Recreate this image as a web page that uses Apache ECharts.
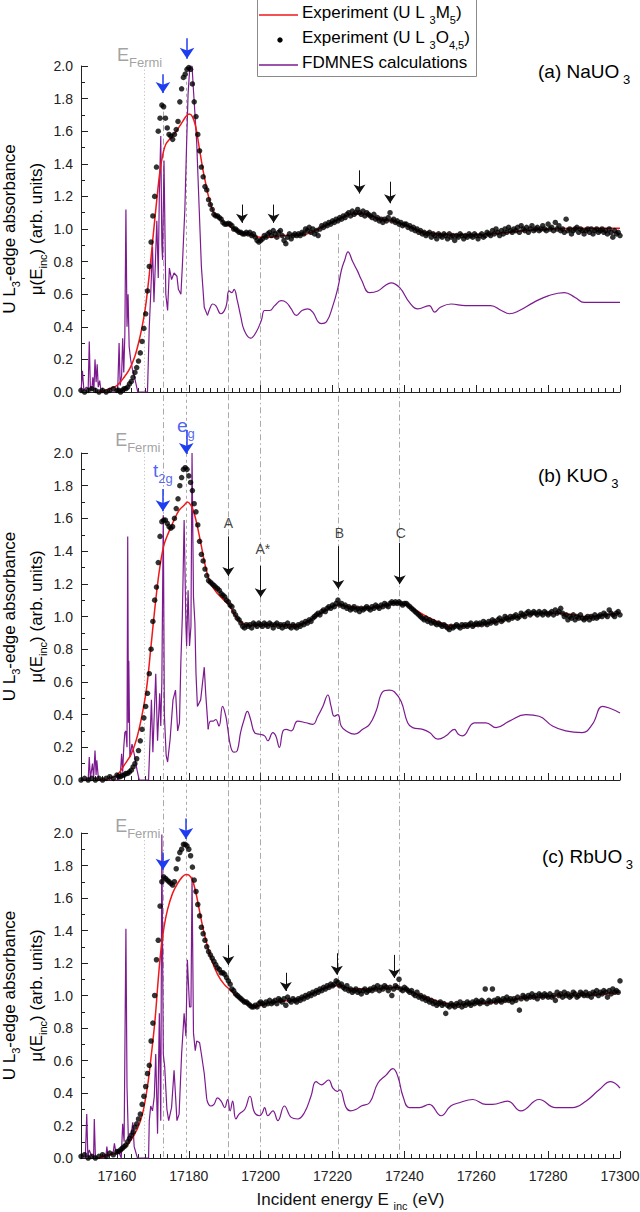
<!DOCTYPE html>
<html>
<head>
<meta charset="utf-8">
<title>U L3-edge absorbance</title>
<script src="https://cdn.jsdelivr.net/npm/echarts@6/dist/echarts.min.js"></script>
<style>
  html, body { margin: 0; padding: 0; background: #fff; }
  #main { width: 640px; height: 1212px; }
</style>
</head>
<body>
<div id="main"></div>
<script>
// energy grid of the HERFD scans: 1 eV steps below 17160, 0.5 eV above
const scanE = []
for (let e = 17150; e <= 17160; e += 1) scanE.push(e)
for (let i = 1; i <= 280; i++) scanE.push(17160 + i * 0.5)

// black dots, U L3O4,5 (one value per scanE point)
const dotsNa = [
  0.01, 0.0, 0.01, 0.02, 0.01, 0.0, 0.01, 0.0, 0.01, 0.02, 0.01,
  0.01, 0.0, 0.01, 0.02, 0.02, 0.03, 0.05, 0.065, 0.09, 0.12, 0.15, 0.19, 0.24, 0.31, 0.39, 0.48, 0.62, 0.77, 0.92, 1.08,
  1.2, 1.38, 1.6, 1.68, 1.76, 1.75, 1.68, 1.62, 1.58, 1.57, 1.55, 1.58, 1.61, 1.66, 1.78, 1.86, 1.93, 1.95, 1.98, 1.99,
  1.98, 1.89, 1.78, 1.69, 1.58, 1.48, 1.38, 1.32, 1.26, 1.24, 1.18, 1.15, 1.12, 1.09, 1.08, 1.08, 1.07, 1.06, 1.04, 1.03,
  1.03, 1.035, 1.03, 1.02, 1.0, 1.0, 0.99, 0.98, 0.98, 0.97, 0.97, 0.98, 0.97, 0.98, 0.96, 0.97, 0.95, 0.93, 0.92, 0.93,
  0.94, 0.96, 0.95, 0.97, 0.98, 0.96, 0.99, 0.97, 0.95, 0.98, 0.99, 0.96, 0.93, 0.91, 0.95, 0.97, 0.94, 0.96, 0.97, 0.96,
  0.97, 0.96, 0.98, 0.97, 1.0, 0.99, 1.01, 0.98, 1.0, 0.97, 0.99, 0.96, 1.0, 1.02, 1.01, 1.03, 1.02, 1.04, 1.03, 1.05,
  1.04, 1.06, 1.05, 1.07, 1.06, 1.08, 1.07, 1.09, 1.1, 1.08, 1.11, 1.09, 1.1, 1.12, 1.1, 1.09, 1.11, 1.08, 1.1, 1.09,
  1.08, 1.07, 1.09, 1.06, 1.07, 1.05, 1.06, 1.04, 1.06, 1.05, 1.07, 1.1, 1.05, 1.06, 1.04, 1.05, 1.03, 1.04, 1.02, 1.03,
  1.03, 1.01, 1.02, 1.0, 1.01, 0.99, 1.0, 0.98, 0.99, 0.97, 0.98, 0.96, 0.97, 0.98, 0.95, 0.97, 0.96, 0.94, 0.97, 0.96,
  0.95, 0.97, 0.96, 0.94, 0.97, 0.95, 0.96, 0.93, 0.96, 0.95, 0.97, 0.96, 0.94, 0.96, 0.95, 0.97, 0.96, 0.95, 0.97, 0.96,
  0.94, 0.96, 0.97, 0.95, 0.96, 0.98, 0.97, 0.96, 0.99, 0.97, 1.0, 0.98, 0.96, 0.99, 0.97, 1.0, 0.98, 1.01, 0.99, 0.98,
  1.0, 0.99, 1.01, 0.98, 1.02, 1.0, 0.99, 1.01, 0.98, 1.0, 1.02, 0.99, 1.0, 1.01, 0.99, 1.0, 1.02, 1.0, 0.99, 1.03,
  1.0, 1.01, 0.99, 1.04, 1.0, 1.02, 0.99, 1.0, 0.98, 1.06, 0.99, 1.0, 0.97, 0.99, 1.0, 1.01, 0.98, 1.0, 0.99, 0.97,
  0.99, 1.0, 0.98, 1.0, 0.97, 0.99, 1.0, 0.98, 0.99, 1.0, 0.98, 0.99, 0.97, 1.0, 0.98, 0.95, 0.99, 0.97, 0.98, 0.96
]
const dotsK = [
  0.0, 0.01, 0.0, 0.01, 0.0, 0.01, 0.0, 0.01, 0.02, 0.01, 0.03,
  0.02, 0.02, 0.03, 0.03, 0.04, 0.04, 0.05, 0.06, 0.08, 0.1, 0.13, 0.18, 0.24, 0.31, 0.38, 0.45, 0.53, 0.65, 0.8, 0.97,
  1.1, 1.18, 1.33, 1.49, 1.58, 1.59, 1.59, 1.57, 1.55, 1.54, 1.55, 1.6, 1.66, 1.72, 1.8, 1.85, 1.9, 1.91, 1.9, 1.86,
  1.82, 1.77, 1.69, 1.64, 1.56, 1.46, 1.38, 1.34, 1.29, 1.25, 1.22, 1.21, 1.2, 1.19, 1.18, 1.17, 1.16, 1.14, 1.13, 1.12,
  1.1, 1.09, 1.07, 1.06, 1.03, 1.01, 0.99, 0.98, 0.96, 0.94, 0.93, 0.95, 0.94, 0.95, 0.93, 0.96, 0.95, 0.94, 0.96, 0.95,
  0.94, 0.96, 0.95, 0.94, 0.96, 0.95, 0.93, 0.95, 0.96, 0.94, 0.95, 0.93, 0.95, 0.94, 0.96, 0.94, 0.93, 0.95, 0.94, 0.93,
  0.95, 0.94, 0.96, 0.95, 0.97, 0.96, 0.98, 0.97, 0.99, 1.0, 1.01, 1.02, 1.01, 1.03, 1.04, 1.03, 1.05, 1.06, 1.05, 1.07,
  1.06, 1.08, 1.1, 1.07, 1.08, 1.06, 1.07, 1.05, 1.06, 1.04, 1.05, 1.06, 1.04, 1.05, 1.03, 1.05, 1.04, 1.05, 1.06, 1.05,
  1.04, 1.06, 1.05, 1.07, 1.06, 1.05, 1.07, 1.06, 1.08, 1.07, 1.06, 1.08, 1.09, 1.08, 1.09, 1.08, 1.09, 1.08, 1.07, 1.08,
  1.08, 1.07, 1.06, 1.05, 1.04, 1.03, 1.02, 1.01, 1.0, 0.99, 0.98, 0.99, 0.97, 0.98, 0.96, 0.97, 0.96, 0.95, 0.96, 0.95,
  0.94, 0.95, 0.94, 0.93, 0.92, 0.94, 0.93, 0.94, 0.95, 0.94, 0.93, 0.95, 0.94, 0.95, 0.94, 0.95, 0.96, 0.94, 0.95, 0.96,
  0.95, 0.96, 0.95, 0.97, 0.96, 0.95, 0.97, 0.96, 0.98, 0.97, 0.96, 0.98, 0.99, 0.97, 0.98, 1.0, 0.99, 0.98, 1.0, 0.99,
  1.0, 1.01, 0.99, 1.0, 1.02, 1.01, 1.0, 1.02, 1.03, 1.01, 1.02, 1.03, 1.02, 1.01, 1.03, 1.02, 1.01, 1.03, 1.02, 1.01,
  1.02, 1.03, 1.01, 1.04, 1.02, 1.03, 1.05, 1.02, 1.0, 1.01, 0.98, 1.0, 0.99, 1.01, 0.98, 1.0, 0.99, 1.01, 0.99, 0.98,
  0.99, 1.0, 0.98, 1.0, 0.99, 1.01, 0.99, 1.0, 1.01, 1.0, 1.02, 1.01, 1.0, 1.04, 1.02, 1.01, 1.0, 1.02, 1.03, 1.01
]
const dotsRb = [
  0.01, 0.02, 0.0, 0.01, 0.0, 0.01, 0.02, 0.01, 0.03, 0.02, 0.04,
  0.04, 0.05, 0.06, 0.07, 0.08, 0.1, 0.12, 0.14, 0.16, 0.19, 0.21, 0.24, 0.27, 0.33, 0.38, 0.44, 0.52, 0.57, 0.72, 0.83,
  1.0, 1.22, 1.34, 1.55, 1.7, 1.73, 1.72, 1.71, 1.7, 1.69, 1.68, 1.7, 1.78, 1.84, 1.88, 1.9, 1.93, 1.93, 1.92, 1.9,
  1.86, 1.79, 1.71, 1.64, 1.56, 1.49, 1.42, 1.38, 1.34, 1.3, 1.27, 1.25, 1.23, 1.21, 1.19, 1.17, 1.16, 1.14, 1.14, 1.13,
  1.11, 1.09, 1.07, 1.04, 1.03, 1.01, 1.0, 0.99, 0.98, 0.97, 0.96, 0.96, 0.95, 0.94, 0.93, 0.93, 0.94, 0.93, 0.95, 0.96,
  0.95, 0.94, 0.96, 0.95, 0.97, 0.95, 0.96, 0.97, 0.95, 0.98, 0.97, 0.96, 0.98, 0.94, 0.99, 0.97, 0.96, 0.98, 0.97, 0.96,
  0.98, 0.97, 0.99, 0.98, 1.0, 0.99, 1.01, 1.0, 1.02, 1.01, 1.03, 1.02, 1.04, 1.03, 1.05, 1.04, 1.06, 1.05, 1.07, 1.06,
  1.07, 1.09, 1.08, 1.06, 1.07, 1.05, 1.04, 1.06, 1.03, 1.04, 1.02, 1.03, 1.04, 1.02, 1.03, 1.01, 1.03, 1.04, 1.02, 1.03,
  1.04, 1.03, 1.05, 1.04, 1.06, 1.03, 1.05, 1.04, 1.06, 1.05, 1.03, 1.05, 1.0, 1.04, 1.06, 1.05, 1.1, 1.04, 1.03, 1.05,
  1.04, 1.03, 1.02, 1.03, 1.01, 1.0, 1.02, 0.99, 1.0, 0.98, 0.99, 0.97, 0.98, 0.96, 0.97, 0.95, 0.96, 0.94, 0.95, 0.96,
  0.94, 0.95, 0.89, 0.94, 0.93, 0.95, 0.94, 0.93, 0.95, 0.94, 0.96, 0.93, 0.95, 0.94, 0.96, 0.95, 0.94, 0.96, 0.95, 0.97,
  0.96, 0.95, 0.97, 0.96, 1.04, 0.95, 0.97, 0.96, 1.04, 0.97, 0.96, 0.98, 0.97, 0.96, 0.98, 0.97, 0.99, 0.97, 0.98, 0.96,
  0.98, 0.97, 0.99, 0.91, 0.98, 1.0, 0.99, 0.98, 1.0, 0.99, 1.01, 0.99, 1.0, 0.98, 1.01, 1.0, 0.99, 1.01, 1.0, 0.99,
  1.01, 0.99, 1.0, 0.97, 1.02, 1.0, 1.01, 0.99, 1.02, 1.0, 1.01, 0.99, 1.0, 1.02, 1.01, 0.99, 1.0, 1.02, 1.01, 1.0,
  1.02, 1.0, 1.01, 0.99, 1.02, 1.01, 1.03, 1.0, 1.02, 1.01, 1.03, 1.02, 0.99, 1.03, 1.01, 1.04, 1.02, 1.03, 1.02, 1.09
]

// red curves, U L3M5 [energy, value]
const fitNa = [
  [17155, 0], [17158, 0.02], [17160, 0.04], [17162, 0.09], [17163.5, 0.14], [17165, 0.22], [17166, 0.3],
  [17167, 0.4], [17168, 0.53], [17169, 0.72], [17170, 0.94], [17171, 1.16], [17172, 1.36], [17172.8, 1.46],
  [17173.6, 1.52], [17175, 1.56], [17176.5, 1.6], [17178, 1.65], [17179.2, 1.69], [17180.1, 1.705], [17181, 1.69],
  [17181.9, 1.63], [17182.9, 1.5], [17183.8, 1.38], [17184.7, 1.28], [17185.6, 1.19], [17187, 1.1], [17189, 1.055],
  [17191.7, 1.01], [17194.4, 0.98], [17197.2, 0.96], [17200, 0.95], [17203, 0.95], [17206, 0.96], [17210, 0.96],
  [17213, 0.97], [17216, 1.0], [17219, 1.03], [17222, 1.065], [17225, 1.09], [17227.5, 1.095], [17230, 1.085],
  [17233, 1.065], [17236, 1.05], [17239, 1.035], [17242, 1.01], [17245, 0.985], [17250, 0.97], [17258, 0.965],
  [17267, 0.975], [17276, 0.995], [17286, 1.005], [17300, 1.005]
]
const fitK = [
  [17155, 0], [17158, 0.01], [17160, 0.03], [17162, 0.09], [17164, 0.16], [17165.7, 0.27], [17167.1, 0.41],
  [17168.3, 0.57], [17169.4, 0.8], [17170.6, 1.06], [17171.8, 1.28], [17173, 1.43], [17174.3, 1.51], [17175.9, 1.59],
  [17177.3, 1.65], [17178.7, 1.68], [17179.6, 1.7], [17180.6, 1.68], [17181.5, 1.63], [17182.4, 1.55], [17183.5, 1.43],
  [17184.7, 1.3], [17186.1, 1.2], [17188, 1.14], [17189.8, 1.1], [17191.2, 1.07], [17193.1, 1.0], [17194.9, 0.96],
  [17197.2, 0.945], [17200, 0.95], [17205, 0.95], [17210, 0.95], [17213, 0.97], [17216, 1.01], [17219, 1.05],
  [17221.5, 1.07], [17225, 1.06], [17229, 1.05], [17233, 1.06], [17237, 1.08], [17240, 1.075], [17243, 1.04],
  [17247, 0.99], [17251, 0.955], [17255, 0.94], [17260, 0.945], [17266, 0.97], [17272, 1.0], [17278, 1.02],
  [17284, 1.02], [17290, 1.0], [17296, 1.01], [17300, 1.02]
]
const fitRb = [
  [17155, 0], [17158, 0.02], [17160, 0.03], [17162, 0.06], [17163.9, 0.11], [17165.7, 0.18], [17167.1, 0.27],
  [17168.5, 0.44], [17169.6, 0.64], [17170.6, 0.85], [17171.5, 1.1], [17172.2, 1.27], [17173.1, 1.42], [17174.1, 1.53],
  [17175.5, 1.63], [17176.9, 1.69], [17178.2, 1.73], [17179.2, 1.745], [17180.1, 1.74], [17181, 1.71], [17181.9, 1.64],
  [17182.9, 1.53], [17183.8, 1.43], [17185, 1.32], [17186.3, 1.22], [17188, 1.13], [17189.8, 1.07], [17191.7, 1.03],
  [17193.5, 0.99], [17195.4, 0.96], [17197.2, 0.94], [17198.6, 0.93], [17200, 0.94], [17204, 0.96], [17208, 0.97],
  [17212, 0.99], [17216, 1.03], [17221, 1.06], [17226, 1.04], [17232, 1.04], [17238, 1.05], [17242, 1.02],
  [17246, 0.99], [17250, 0.96], [17254, 0.945], [17260, 0.95], [17266, 0.96], [17272, 0.98], [17278, 0.99],
  [17284, 1.0], [17290, 1.0], [17296, 1.01], [17300, 1.02]
]

// purple FDMNES curves [energy, value]
const fdNa = [
  [17150, 0], [17150.4, 0.13], [17150.8, 0.01], [17151.5, 0.03], [17152, 0.02], [17152.3, 0.31], [17152.6, 0.03],
  [17153, 0.01], [17153.3, 0.09], [17153.6, 0.02], [17153.9, 0.2], [17154.2, 0.06], [17154.5, 0.17], [17154.8, 0.03],
  [17155.2, 0.07], [17155.6, 0], [17160.2, 0], [17160.6, 0.3], [17160.9, 0.04], [17161.3, 0.1], [17161.6, 0.33],
  [17161.9, 0.12], [17162.2, 0.35], [17162.5, 1.12], [17162.8, 0.4], [17163.1, 0.6], [17163.4, 0.28], [17163.8, 0.2],
  [17164.3, 0.14], [17164.8, 0.1], [17165.3, 0.05], [17165.8, 0], [17168.5, 0], [17169, 0.4], [17169.4, 0.6],
  [17169.9, 0.89], [17170.3, 0.55], [17170.6, 0.73], [17171.1, 1.05], [17171.5, 0.7], [17171.8, 1.22], [17172.2, 1.57],
  [17172.5, 0.9], [17172.7, 0.81], [17173.1, 1.42], [17173.6, 0.6], [17174.1, 0.5], [17174.6, 0.76], [17175.2, 0.69],
  [17175.9, 0.73], [17176.7, 0.71], [17177.1, 0.63], [17177.8, 0.6], [17178.2, 0.77], [17178.9, 1.12], [17179.4, 1.53],
  [17179.8, 1.83], [17180.3, 2.0], [17180.9, 2.0], [17181.3, 1.85], [17181.7, 1.71], [17182.2, 1.53], [17182.9, 1.12],
  [17183.5, 0.77], [17184.3, 0.52], [17185.2, 0.47], [17186, 0.52], [17186.6, 0.54], [17187.5, 0.53], [17188.9, 0.48],
  [17190.3, 0.52], [17191.2, 0.62], [17192, 0.61], [17192.6, 0.63], [17193.5, 0.56], [17194.5, 0.46], [17195.4, 0.38],
  [17197.2, 0.33], [17198.8, 0.37], [17200.2, 0.44], [17201.1, 0.5], [17202.5, 0.5], [17203.9, 0.53], [17205.7, 0.56],
  [17207.1, 0.55], [17208.5, 0.51], [17209.9, 0.47], [17211.5, 0.5], [17213.1, 0.51], [17214.5, 0.49], [17216, 0.43],
  [17216.9, 0.42], [17218.3, 0.43], [17220.1, 0.53], [17221.5, 0.64], [17222.5, 0.75], [17223.4, 0.81], [17224.3, 0.86],
  [17225.6, 0.8], [17227, 0.74], [17228, 0.69], [17230.3, 0.61], [17232.6, 0.62], [17234.5, 0.65], [17236.3, 0.67],
  [17238.7, 0.64], [17241.4, 0.55], [17243.7, 0.51], [17246.9, 0.53], [17248.4, 0.49], [17250, 0.52], [17253, 0.54],
  [17257, 0.53], [17261, 0.53], [17264, 0.53], [17267, 0.5], [17269.2, 0.48], [17272, 0.5], [17276, 0.55],
  [17280, 0.59], [17284.5, 0.61], [17287.5, 0.58], [17290, 0.55], [17294, 0.55], [17300, 0.55]
]
const fdK = [
  [17150, 0], [17152, 0], [17152.3, 0.14], [17152.6, 0.01], [17152.8, 0.04], [17153.2, 0.1], [17153.5, 0.01],
  [17153.9, 0.18], [17154.2, 0.03], [17154.4, 0.12], [17154.8, 0.02], [17155.1, 0], [17160.5, 0], [17161, 0.05],
  [17161.3, 0.16], [17161.6, 0.05], [17161.9, 0.2], [17162.2, 0.29], [17162.5, 0.3], [17162.8, 0.2], [17163, 1.49],
  [17163.2, 0.35], [17163.3, 0.73], [17163.6, 0.14], [17164.2, 0.22], [17164.8, 0.16], [17165.6, 0.06], [17166.2, 0],
  [17168.8, 0], [17169.2, 0.24], [17169.6, 0.49], [17170, 0.17], [17170.4, 0.41], [17170.8, 0.65], [17171.3, 0.24],
  [17171.9, 0.53], [17172.2, 0.33], [17172.5, 0.6], [17172.9, 1.62], [17173.2, 0.4], [17173.7, 0.15], [17174.1, 0.11],
  [17174.8, 0.25], [17175.6, 0.49], [17176.3, 0.55], [17176.9, 0.3], [17177.4, 0.35], [17177.8, 0.73], [17178.2, 1.0],
  [17178.7, 1.59], [17179.2, 0.94], [17179.4, 0.82], [17179.8, 1.16], [17180.2, 0.82], [17180.6, 0.94], [17180.9, 2.0],
  [17181.3, 1.12], [17181.7, 0.96], [17182, 0.65], [17182.4, 0.45], [17183.3, 0.49], [17184.3, 0.69], [17184.7, 0.53],
  [17185.4, 0.31], [17186.1, 0.36], [17186.8, 0.36], [17187.5, 0.37], [17188.4, 0.33], [17189.4, 0.45], [17190.3, 0.39],
  [17190.8, 0.32], [17191.7, 0.2], [17192.6, 0.17], [17193.5, 0.18], [17194.4, 0.29], [17195.4, 0.37], [17196.3, 0.42],
  [17197.2, 0.37], [17198.3, 0.29], [17199.7, 0.28], [17201.1, 0.27], [17202, 0.24], [17203.4, 0.29], [17204.2, 0.27],
  [17205.2, 0.2], [17206.2, 0.3], [17207.1, 0.31], [17208.5, 0.3], [17210.3, 0.36], [17212.6, 0.35], [17214.5, 0.34],
  [17215.9, 0.39], [17217.3, 0.45], [17218.7, 0.52], [17219.6, 0.45], [17220.5, 0.39], [17221.5, 0.4], [17222.4, 0.33],
  [17223.8, 0.3], [17226.1, 0.28], [17228.4, 0.31], [17230.3, 0.34], [17232.1, 0.42], [17234, 0.54], [17235.8, 0.55],
  [17237.2, 0.54], [17239.1, 0.48], [17240.9, 0.35], [17242.3, 0.32], [17245.1, 0.31], [17247, 0.29], [17249.3, 0.25],
  [17251.6, 0.27], [17253.9, 0.31], [17255, 0.28], [17256.2, 0.27], [17259.5, 0.35], [17262.7, 0.35], [17265.5, 0.32],
  [17269.2, 0.36], [17273.8, 0.4], [17277.5, 0.39], [17281.2, 0.33], [17284.9, 0.3], [17289.5, 0.29], [17292.3, 0.34],
  [17295.1, 0.45], [17297, 0.44], [17300, 0.41]
]
const fdRb = [
  [17150, 0], [17151.2, 0], [17151.6, 0.27], [17151.9, 0.01], [17152.3, 0.05], [17152.8, 0.02], [17153.5, 0],
  [17153.7, 0.24], [17154, 0.01], [17154.5, 0], [17156.9, 0], [17157.2, 0.07], [17157.5, 0.01], [17159, 0.04],
  [17159.3, 0.09], [17159.8, 0.02], [17160.5, 0.04], [17161.2, 0], [17161.6, 0.21], [17162, 0.1], [17162.5, 1.41],
  [17162.8, 0.44], [17163.2, 0.1], [17163.9, 0.13], [17164.4, 0.22], [17164.8, 0.07], [17165.7, 0], [17168.8, 0],
  [17169, 0.23], [17169.4, 0.32], [17169.9, 0.29], [17170.4, 0.38], [17170.8, 0.64], [17171.3, 0.15], [17171.8, 0.89],
  [17172.2, 0.23], [17172.5, 1.99], [17172.9, 0.64], [17173.3, 0.56], [17173.9, 0.3], [17174.4, 0.23], [17175.2, 0.31],
  [17175.9, 0.54], [17176.7, 0.23], [17177.3, 0.27], [17178, 0.64], [17178.7, 0.89], [17179.2, 0.75], [17179.6, 1.22],
  [17180.2, 0.93], [17180.6, 0.93], [17180.9, 1.73], [17181.3, 0.77], [17181.8, 0.66], [17182.2, 0.72], [17183, 0.71],
  [17183.5, 0.64], [17184.3, 0.52], [17185, 0.36], [17186.1, 0.32], [17187, 0.33], [17188, 0.37], [17189, 0.35],
  [17190, 0.31], [17190.8, 0.36], [17191.5, 0.29], [17192.2, 0.35], [17193.1, 0.24], [17194, 0.27], [17195.6, 0.3],
  [17197, 0.38], [17198.3, 0.28], [17199.7, 0.26], [17200.5, 0.28], [17201.1, 0.31], [17202, 0.26], [17203.4, 0.29],
  [17204.8, 0.23], [17206.6, 0.32], [17208.5, 0.25], [17210.3, 0.24], [17212.2, 0.28], [17214, 0.38], [17215.4, 0.47],
  [17216.9, 0.45], [17218.9, 0.48], [17220.1, 0.43], [17221.3, 0.41], [17222, 0.42], [17223.8, 0.31], [17225, 0.29],
  [17226.6, 0.3], [17228, 0.32], [17230.3, 0.34], [17232.6, 0.46], [17234.9, 0.51], [17236.8, 0.55], [17238.2, 0.5],
  [17239.6, 0.38], [17241.4, 0.31], [17244.2, 0.31], [17246.9, 0.33], [17250.2, 0.26], [17252.9, 0.32], [17255.3, 0.34],
  [17259, 0.36], [17262.7, 0.33], [17264.5, 0.33], [17268.7, 0.35], [17272.4, 0.29], [17277.5, 0.36], [17282.1, 0.31],
  [17286.7, 0.31], [17290.5, 0.35], [17294.2, 0.42], [17297.4, 0.47], [17300, 0.43]
]

const xTicks = [17160, 17180, 17200, 17220, 17240, 17260, 17280, 17300]
const fermiE = 17167.5
// above this energy the FDMNES curves are smooth oscillations
const smoothFrom = 17185
// energies of the vertical guide lines and where they start in panel (a)
const guideE = [17172.8, 17179.3, 17191, 17199.8, 17221.6, 17238.7]
const guideStart = [1.72, 1.94, 0.98, 0.9, 0.97, 1.02]
// black arrows: [energy, panel, tail value, tip value]
const blackArrows = [
  [17194.8, 0, 1.15, 1.01], [17203.6, 0, 1.15, 1.01], [17227.5, 0, 1.36, 1.19], [17236, 0, 1.29, 1.13],
  [17191, 1, 1.49, 1.22], [17200, 1, 1.31, 1.09], [17221.6, 1, 1.43, 1.14], [17238.7, 1, 1.45, 1.17],
  [17191, 2, 1.31, 1.16], [17207, 2, 1.14, 1.0], [17221.2, 2, 1.26, 1.1], [17237.2, 2, 1.25, 1.08]
]
// blue arrows (t2g, eg)
const blueArrows = [
  [17172.8, 0, 1.95, 1.8], [17179.5, 0, 2.17, 2.01],
  [17172.8, 1, 1.78, 1.61], [17179.3, 1, 2.14, 1.96],
  [17172.8, 2, 1.88, 1.74], [17179.2, 2, 2.09, 1.93]
]
const panelNames = ['(a) NaUO', '(b) KUO', '(c) RbUO']

const FONT = 'Arial, "Liberation Sans", Helvetica, sans-serif'
const RED = '#f01818'
const PURPLE = '#7d1a8f'
const BLUE = '#1f3df0'
const AXIS = '#222'

const GRID_TOP = [66, 453, 833]
const GRID_H = [326, 327, 325]
// overlay grid spans the whole page in pixels (y down), used for guides and arrows
function oy (p, v) { return GRID_TOP[p] + (2 - v) / 2 * GRID_H[p] }

function subRich (main, sub, pad, color, lh) {
  return {
    m: { fontSize: main, lineHeight: lh || main + 4, verticalAlign: 'top', color: color, fontFamily: FONT },
    s: { fontSize: sub, lineHeight: sub, padding: [pad, 0, 0, 0], verticalAlign: 'top', color: color, fontFamily: FONT }
  }
}

const chart = echarts.init(document.getElementById('main'), null, { renderer: 'svg' })

const grids = []
const xAxes = []
const yAxes = []
const series = []
const dotSets = [dotsNa, dotsK, dotsRb]
const fitSets = [fitNa, fitK, fitRb]
const fdSets = [fdNa, fdK, fdRb]

for (let p = 0; p < 3; p++) {
  const last = p === 2
  grids.push({ left: 81, right: 20, top: GRID_TOP[p], height: GRID_H[p], containLabel: false, outerBoundsMode: 'none' })
  xAxes.push({
    type: 'value', gridIndex: p, position: 'bottom', min: 17150, max: 17300, interval: 10,
    axisLine: { show: true, onZero: false, lineStyle: { color: AXIS, width: 1 } },
    axisTick: { show: true, inside: true, length: 7, customValues: xTicks, lineStyle: { color: AXIS } },
    axisLabel: { show: last, customValues: xTicks, formatter: v => String(v), fontSize: 14, color: AXIS, margin: 11, fontFamily: FONT },
    splitLine: { show: false },
    name: last ? '{m|Incident energy E }{s|inc}{m| (eV)}' : '',
    nameLocation: 'middle',
    nameGap: 33,
    nameMoveOverlap: false,
    nameTextStyle: { rich: subRich(17, 11, 9, '#111') }
  })
  // minor ticks every 2 eV
  xAxes.push({
    type: 'value', gridIndex: p, position: 'bottom', min: 17150, max: 17300, interval: 2,
    axisLine: { show: false, onZero: false },
    axisTick: { show: true, inside: true, length: 4, lineStyle: { color: AXIS } },
    axisLabel: { show: false },
    splitLine: { show: false }
  })
  yAxes.push({
    type: 'value', gridIndex: p, min: 0, max: 2, interval: 0.2,
    axisLine: { show: true, lineStyle: { color: AXIS, width: 1 } },
    axisTick: { show: true, inside: true, length: 7, lineStyle: { color: AXIS } },
    minorTick: { show: true, splitNumber: 2, length: 4, lineStyle: { color: AXIS } },
    axisLabel: { formatter: v => v.toFixed(1), fontSize: 14, color: AXIS, margin: 8, fontFamily: FONT },
    splitLine: { show: false }
  })

  // FDMNES: sharp pre-edge/edge lines drawn straight, the oscillating tail smoothed
  const fd = fdSets[p]
  const cut = fd.findIndex(d => d[0] >= smoothFrom)
  series.push({
    type: 'line', xAxisIndex: 2 * p, yAxisIndex: p, data: fd.slice(0, cut + 1),
    symbol: 'none', lineStyle: { color: PURPLE, width: 1.2 }, z: 2, silent: true
  })
  series.push({
    type: 'line', xAxisIndex: 2 * p, yAxisIndex: p, data: fd.slice(cut), smooth: 0.45,
    symbol: 'none', lineStyle: { color: PURPLE, width: 1.2 }, z: 2, silent: true
  })
  series.push({
    type: 'line', xAxisIndex: 2 * p, yAxisIndex: p, data: fitSets[p], smooth: 0.35,
    symbol: 'none', lineStyle: { color: RED, width: 1.5 }, z: 3, silent: true
  })
  series.push({
    type: 'scatter', xAxisIndex: 2 * p, yAxisIndex: p,
    data: scanE.map((e, i) => [e, dotSets[p][i]]),
    symbolSize: 5.5, itemStyle: { color: '#000' }, z: 4, silent: true
  })
}

// overlay grid for guides, arrows and annotations
grids.push({ left: 81, right: 20, top: 0, height: 1212, containLabel: false, outerBoundsMode: 'none' })
xAxes.push({ type: 'value', gridIndex: 3, min: 17150, max: 17300, show: false })
yAxes.push({ type: 'value', gridIndex: 3, min: 0, max: 1212, inverse: true, show: false })
const OX = 6
const OYI = 3

const guideStyles = [
  { color: '#555', width: 1, type: [6, 3, 1.5, 3] },
  { color: '#555', width: 1, type: [3, 3] },
  { color: '#555', width: 1, type: [6, 3] },
  { color: '#555', width: 1, type: [6, 3, 1.5, 3] },
  { color: '#555', width: 1, type: [6, 3, 1.5, 3] },
  { color: '#555', width: 1, type: [6, 3, 1.5, 3] }
]
const guideData = []
for (let p = 0; p < 3; p++) {
  guideData.push({
    coords: [[fermiE, oy(p, 2)], [fermiE, oy(p, 0)]],
    lineStyle: { color: '#888', width: 1, type: [1.2, 2.4] }
  })
}
guideE.forEach((e, i) => {
  guideData.push({ coords: [[e, oy(0, guideStart[i])], [e, oy(2, 0)]], lineStyle: guideStyles[i] })
})
series.push({
  type: 'lines', coordinateSystem: 'cartesian2d', xAxisIndex: OX, yAxisIndex: OYI,
  data: guideData, symbol: 'none', z: 1, silent: true
})

const HEAD_B = 9
const HEAD_U = 11
series.push({
  type: 'lines', coordinateSystem: 'cartesian2d', xAxisIndex: OX, yAxisIndex: OYI,
  data: blackArrows.map(a => ({ coords: [[a[0], oy(a[1], a[2])], [a[0], oy(a[1], a[3]) - HEAD_B / 2]] })),
  symbol: ['none', 'arrow'], symbolSize: HEAD_B,
  lineStyle: { color: '#111', width: 1, opacity: 1 }, z: 5, silent: true
})
series.push({
  type: 'lines', coordinateSystem: 'cartesian2d', xAxisIndex: OX, yAxisIndex: OYI,
  data: blueArrows.map(a => ({ coords: [[a[0], oy(a[1], a[2])], [a[0], oy(a[1], a[3]) - HEAD_U / 2]] })),
  symbol: ['none', 'arrow'], symbolSize: HEAD_U,
  lineStyle: { color: BLUE, width: 1.5, opacity: 1 }, z: 5, silent: true
})

function note (e, p, v, text, rich, extra) {
  return {
    value: [e, oy(p, v)],
    label: Object.assign({ show: true, position: 'inside', formatter: text, rich: rich }, extra || {})
  }
}
const fermiRich = subRich(18, 13, 10, '#8a8a8a')
const blueRich = subRich(19, 13, 11, BLUE)
const plain = { fontSize: 14, color: '#111', fontFamily: FONT }
series.push({
  type: 'scatter', xAxisIndex: OX, yAxisIndex: OYI, symbolSize: 1,
  itemStyle: { color: 'rgba(0,0,0,0)' }, z: 6, silent: true,
  data: [
    note(17166.3, 0, 2.055, '{m|E}{s|Fermi}', fermiRich),
    note(17165.8, 1, 2.067, '{m|E}{s|Fermi}', fermiRich),
    note(17165.8, 2, 2.028, '{m|E}{s|Fermi}', fermiRich),
    note(17172.8, 1, 1.878, '{m|t}{s|2g}', blueRich),
    note(17179.2, 1, 2.153, '{m|e}{s|g}', blueRich),
    note(17191, 1, 1.57, 'A', null, plain),
    note(17200.6, 1, 1.41, 'A*', null, plain),
    note(17221.9, 1, 1.51, 'B', null, plain),
    note(17239, 1, 1.51, 'C', null, plain)
  ]
})

const legendRich = subRich(17, 11, 10, '#111')
const panelRich = subRich(19, 13, 11, '#111')
const titleRich = subRich(17, 11, 10, '#111')
const graphic = [
  { type: 'rect', shape: { x: 257.5, y: -1, width: 219, height: 77.5 }, style: { fill: '#fff', stroke: '#8a8a8a', lineWidth: 1 }, z: 100 },
  { type: 'line', shape: { x1: 259, y1: 15, x2: 298, y2: 15 }, style: { stroke: RED, lineWidth: 1.5 }, z: 101 },
  { type: 'circle', shape: { cx: 280, cy: 40, r: 2.7 }, style: { fill: '#000' }, z: 101 },
  { type: 'line', shape: { x1: 259, y1: 65, x2: 298, y2: 65 }, style: { stroke: PURPLE, lineWidth: 1.3 }, z: 101 },
  { type: 'text', left: 302, top: 4, style: { text: '{m|Experiment (U L }{s|3}{m|M}{s|5}{m|)}', rich: legendRich }, z: 101 },
  { type: 'text', left: 302, top: 29, style: { text: '{m|Experiment (U L }{s|3}{m|O}{s|4,5}{m|)}', rich: legendRich }, z: 101 },
  { type: 'text', left: 302, top: 54, style: { text: '{m|FDMNES calculations}', rich: legendRich }, z: 101 }
]
const panelLabelX = [538, 538, 542]
const panelLabelY = [62, 466, 847]
for (let p = 0; p < 3; p++) {
  graphic.push({
    type: 'text', left: panelLabelX[p], top: panelLabelY[p],
    style: { text: '{m|' + panelNames[p] + '}{s| 3}', rich: panelRich },
    z: 101
  })
  // rotated y-axis title, two lines
  const cy = GRID_TOP[p] + GRID_H[p] / 2
  graphic.push({
    type: 'text', x: 11, y: cy, rotation: Math.PI / 2,
    style: { text: '{m|U L}{s|3}{m|-edge absorbance}', rich: titleRich, align: 'center', verticalAlign: 'middle' },
    z: 101
  })
  graphic.push({
    type: 'text', x: 38, y: cy, rotation: Math.PI / 2,
    style: { text: '{m|μ(E}{s|inc}{m|) (arb. units)}', rich: titleRich, align: 'center', verticalAlign: 'middle' },
    z: 101
  })
}

chart.setOption({
  animation: false,
  backgroundColor: '#fff',
  textStyle: { fontFamily: FONT },
  grid: grids,
  xAxis: xAxes,
  yAxis: yAxes,
  series: series,
  graphic: graphic
})
</script>
</body>
</html>
